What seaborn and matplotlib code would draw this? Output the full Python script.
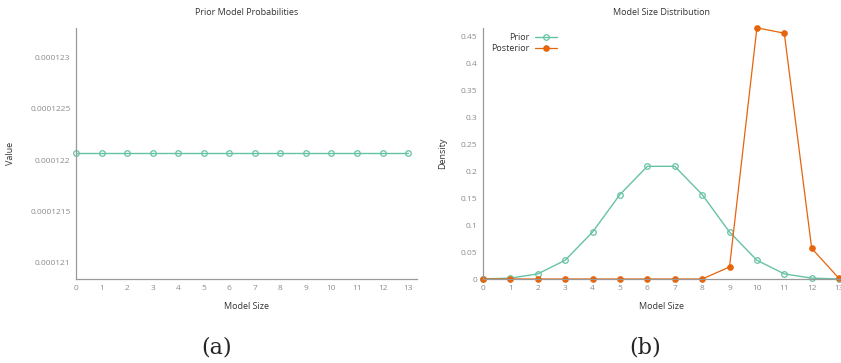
import pandas as pd
import matplotlib.pyplot as plt
import seaborn as sns

# model sizes and probabilities
model_size = [0, 1, 2, 3, 4, 5, 6, 7, 8, 9, 10, 11, 12, 13]
prior_model_prob = [0.00012207, 0.00012207, 0.00012207, 0.00012207, 0.00012207,
                    0.00012207, 0.00012207, 0.00012207, 0.00012207, 0.00012207,
                    0.00012207, 0.00012207, 0.00012207, 0.00012207]
prior_size = [0.0001, 0.0016, 0.0095, 0.0349, 0.0873, 0.1571, 0.2095,
              0.2095, 0.1571, 0.0873, 0.0349, 0.0095, 0.0016, 0.0001]
posterior_size = [0, 0, 0, 0, 0, 0, 0, 0, 0, 0.0223, 0.467, 0.457, 0.057, 0.001]

left_ticks = [0.000121, 0.0001215, 0.000122, 0.0001225, 0.000123]
left_ticklabels = ['0.000121', '0.0001215', '0.000122', '0.0001225', '0.000123']
right_ticks = [0, 0.05, 0.1, 0.15, 0.2, 0.25, 0.3, 0.35, 0.4, 0.45]
right_ticklabels = ['0', '0.05', '0.1', '0.15', '0.2', '0.25', '0.3', '0.35', '0.4', '0.45']

green = '#66c2a5'
orange = '#e6640a'

sns.set_style('white')
plt.rcParams['font.family'] = ['Open Sans', 'DejaVu Sans']

df_a = pd.DataFrame({'size': model_size, 'value': prior_model_prob})
df_b = pd.DataFrame({'size': model_size, 'Prior': prior_size, 'Posterior': posterior_size})

fig = plt.figure(figsize=(8.41, 3.63), dpi=100)
ax1 = fig.add_axes([0.0904, 0.2314, 0.4055, 0.6915])
ax2 = fig.add_axes([0.5743, 0.2314, 0.4257, 0.6915])


def style_axis(ax):
    for s in ['top', 'right']:
        ax.spines[s].set_visible(False)
    for s in ['left', 'bottom']:
        ax.spines[s].set_color('#999999')
        ax.spines[s].set_linewidth(0.9)
    ax.tick_params(direction='in', length=3, width=0.8, color='#999999',
                   labelcolor='#8c8c8c', labelsize=6, pad=4)
    ax.set_xticks(model_size)


# (a) prior model probabilities
sns.lineplot(data=df_a, x='size', y='value', ax=ax1, color=green, linewidth=1,
             marker='o', markersize=4, markerfacecolor='none',
             markeredgecolor=green, markeredgewidth=0.9, clip_on=False)
ax1.set_xlim(0, 13.35)
ax1.set_ylim(0.00012084, 0.00012329)
ax1.set_yticks(left_ticks)
ax1.set_yticklabels(left_ticklabels)
style_axis(ax1)
ax1.set_title('Prior Model Probabilities', fontsize=6.5, color='#333333', pad=9)
ax1.set_xlabel('Model Size', fontsize=6.5, color='#333333')
ax1.set_ylabel('Value', fontsize=6.5, color='#333333')
ax1.xaxis.set_label_coords(0.5, -0.09)
ax1.yaxis.set_label_coords(-0.18, 0.5)

# (b) model size distribution
sns.lineplot(data=df_b, x='size', y='Prior', ax=ax2, color=green, linewidth=1,
             marker='o', markersize=4, markerfacecolor='none',
             markeredgecolor=green, markeredgewidth=0.9, label='Prior', clip_on=False)
sns.lineplot(data=df_b, x='size', y='Posterior', ax=ax2, color=orange, linewidth=0.9,
             marker='o', markersize=4, markerfacecolor=orange,
             markeredgecolor=orange, label='Posterior', clip_on=False)
ax2.set_xlim(0, 13.07)
ax2.set_ylim(0, 0.4667)
ax2.set_yticks(right_ticks)
ax2.set_yticklabels(right_ticklabels)
style_axis(ax2)
ax2.set_title('Model Size Distribution', fontsize=6.5, color='#333333', pad=9)
ax2.set_xlabel('Model Size', fontsize=6.5, color='#333333')
ax2.set_ylabel('Density', fontsize=6.5, color='#333333')
ax2.xaxis.set_label_coords(0.5, -0.09)
ax2.yaxis.set_label_coords(-0.1, 0.5)
leg = ax2.legend(loc='upper right', bbox_to_anchor=(0.207, 0.98), frameon=False,
                 markerfirst=False, fontsize=6.5, handlelength=2.5,
                 handletextpad=0.55, labelspacing=0.25, borderpad=0,
                 borderaxespad=0)
for t in leg.get_texts():
    t.set_color('#333333')

fig.text(0.257, 0.025, '(a)', fontsize=16, family='DejaVu Serif', ha='center')
fig.text(0.767, 0.025, '(b)', fontsize=16, family='DejaVu Serif', ha='center')

fig.savefig('out.png', dpi=100)
